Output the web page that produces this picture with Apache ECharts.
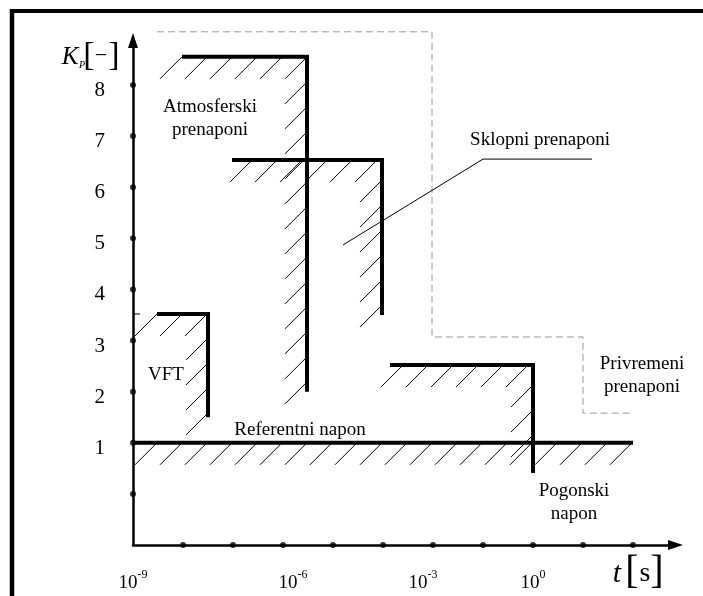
<!DOCTYPE html>
<html><head><meta charset="utf-8">
<script src="https://cdn.jsdelivr.net/npm/echarts@6/dist/echarts.min.js"></script>
<style>html,body{margin:0;padding:0;background:#fff}#c{width:703px;height:596px}</style>
</head><body><div id="c"></div>
<script>
// x: position along the logarithmic time axis, one unit per decade mark (0 = 10^-9 s)
// y: overvoltage factor K_P [-]
const xDots = [1,2,3,4,5,6,7,8,9,10];
const yDots = [0,1,2,3,4,5,6,7,8];
const xTickPositions = [0, 3.2, 5.8, 8];
const xTickExponents = ['-9', '-6', '-3', '0'];

const vftLimit = [[0.48,3.52],[1.5,3.52],[1.5,1.5]];
const lightningLimit = [[0.98,8.55],[3.48,8.55],[3.48,2.0]];
const switchingLimit = [[1.98,6.53],[4.98,6.53],[4.98,3.5]];
const temporaryLimit = [[5.14,2.52],[8,2.52],[8,1.0]];
const operatingDrop = [[8,1.0],[8,0.41]];
const referenceLevel = [[0,1.0],[10,1.0]];
const temporaryEnvelope = [[0.48,9.04],[5.98,9.04],[5.98,3.07],[9,3.07],[9,1.58],[10,1.58]];
const switchingLeader = [[4.2,4.87],[7.0,6.55],[9.18,6.55]];
const vftAxisMark = [[0,3.52],[0.14,3.52]];

const annotationTexts = ['Atmosferski\nprenaponi', 'Sklopni prenaponi', 'VFT', 'Referentni napon', 'Privremeni\nprenaponi', 'Pogonski\nnapon'];
const annotationAt = [[1.54,7.34],[8.14,6.93],[0.66,2.33],[3.34,1.25],[10.18,2.31],[8.82,-0.16]];

const SERIF = "'Liberation Serif', 'Times New Roman', serif";

function pathSeries(name, pts, style, hatchOffset) {
  return {
    type: 'custom', name, clip: false, silent: true,
    data: pts,
    renderItem: function (params, api) {
      if (params.dataIndex !== 0) return null;
      const p = pts.map(d => api.coord(d));
      const children = [{
        type: 'polyline', shape: { points: p },
        style: Object.assign({ fill: null, lineJoin: 'miter', lineCap: 'butt' }, style)
      }];
      if (hatchOffset != null) {
        let dist = 0, next = hatchOffset;
        for (let i = 0; i < p.length - 1; i++) {
          const a = p[i], b = p[i + 1];
          const len = Math.hypot(b[0] - a[0], b[1] - a[1]);
          while (next <= dist + len + 0.5) {
            const t = Math.min(1, (next - dist) / len);
            const x = a[0] + (b[0] - a[0]) * t, y = a[1] + (b[1] - a[1]) * t;
            children.push({ type: 'line', shape: { x1: x, y1: y, x2: x - 22, y2: y + 22 },
              style: { stroke: '#000', lineWidth: 1 } });
            next += 25;
          }
          dist += len;
        }
      }
      return { type: 'group', children };
    }
  };
}

const thick = { stroke: '#000', lineWidth: 4 };

const chart = echarts.init(document.getElementById('c'), null, { renderer: 'canvas' });
chart.setOption({
  animation: false,
  backgroundColor: '#fff',
  textStyle: { fontFamily: SERIF },
  grid: { left: 133, right: 27.5, top: 40.5, bottom: 51 },
  xAxis: {
    type: 'value', min: 0, max: 10.85, interval: 1,
    axisLine: { show: true, onZero: false, lineStyle: { color: '#000', width: 2.5 }, symbol: ['none', 'triangle'], symbolSize: [10, 15] },
    axisTick: { show: false }, splitLine: { show: false },
    axisLabel: {
      customValues: xTickPositions, margin: 24, color: '#000', fontFamily: SERIF,
      formatter: v => { const i = xTickPositions.indexOf(v); return i < 0 ? '' : '{b|10}{s|' + xTickExponents[i] + '}'; },
      rich: {
        b: { fontFamily: SERIF, fontSize: 19, color: '#000', lineHeight: 24, verticalAlign: 'bottom' },
        s: { fontFamily: SERIF, fontSize: 12, color: '#000', lineHeight: 24, verticalAlign: 'top', padding: [0,0,8,0] }
      }
    }
  },
  yAxis: {
    type: 'value', min: -1, max: 8.87, interval: 1,
    axisLine: { show: true, onZero: false, lineStyle: { color: '#000', width: 2.5 }, symbol: ['none', 'triangle'], symbolSize: [10, 15] },
    axisTick: { show: false }, splitLine: { show: false },
    axisLabel: {
      margin: 28, color: '#000',
      formatter: v => (v >= 1 && Number.isInteger(v)) ? '{n|' + v + '}' : '',
      rich: { n: { fontFamily: SERIF, fontSize: 21, color: '#000', padding: [11, 0, 0, 0] } }
    }
  },
  series: [
    pathSeries('Privremeni envelope', temporaryEnvelope, { stroke: '#9a9a9a', lineWidth: 1, lineDash: [7, 4] }, null),
    pathSeries('Referentni napon', referenceLevel, thick, 24),
    pathSeries('VFT', vftLimit, thick, 0),
    pathSeries('Atmosferski', lightningLimit, thick, 0),
    pathSeries('Sklopni', switchingLimit, thick, 20),
    pathSeries('Privremeni', temporaryLimit, thick, 13),
    pathSeries('Pogonski', operatingDrop, thick, null),
    pathSeries('Leader', switchingLeader, { stroke: '#000', lineWidth: 1 }, null),
    pathSeries('VFT mark', vftAxisMark, { stroke: '#000', lineWidth: 1 }, null),
    {
      type: 'scatter', name: 'y marks', clip: false, silent: true, symbol: 'circle', symbolSize: 6,
      itemStyle: { color: '#000' }, data: yDots.map(v => [0, v])
    },
    {
      type: 'scatter', name: 'x marks', clip: false, silent: true, symbol: 'circle', symbolSize: 6,
      itemStyle: { color: '#000' }, data: xDots.map(v => [v, -1])
    },
    {
      type: 'custom', name: 'annotations', clip: false, silent: true,
      data: annotationAt,
      renderItem: function (params, api) {
        const c = api.coord([api.value(0), api.value(1)]);
        return { type: 'text', x: c[0], y: c[1], style: {
          text: annotationTexts[params.dataIndex], align: 'center', verticalAlign: 'middle',
          fontFamily: SERIF, fontSize: 19, lineHeight: 23, fill: '#000' } };
      }
    }
  ],
  graphic: [
    { type: 'line', shape: { x1: 12, y1: 9, x2: 12, y2: 596 }, style: { stroke: '#000', lineWidth: 4.5 } },
    { type: 'line', shape: { x1: 10, y1: 11, x2: 703, y2: 11 }, style: { stroke: '#000', lineWidth: 4 } },
    { type: 'text', x: 70, y: 57, style: { text: 'K', fontFamily: SERIF, fontStyle: 'italic', fontSize: 25, fill: '#000', align: 'center', verticalAlign: 'middle' } },
    { type: 'text', x: 82, y: 65, style: { text: 'P', fontFamily: SERIF, fontStyle: 'italic', fontSize: 10, fill: '#000', align: 'center', verticalAlign: 'middle' } },
    { type: 'text', x: 89, y: 56, style: { text: '[', fontFamily: SERIF, fontSize: 34, fill: '#000', align: 'center', verticalAlign: 'middle' } },
    { type: 'text', x: 101, y: 56, style: { text: '\u2212', fontFamily: SERIF, fontSize: 22, fill: '#000', align: 'center', verticalAlign: 'middle' } },
    { type: 'text', x: 114, y: 56, style: { text: ']', fontFamily: SERIF, fontSize: 34, fill: '#000', align: 'center', verticalAlign: 'middle' } },
    { type: 'text', x: 617, y: 574, style: { text: 't', fontFamily: SERIF, fontStyle: 'italic', fontSize: 30, fill: '#000', align: 'center', verticalAlign: 'middle' } },
    { type: 'text', x: 632, y: 572, style: { text: '[', fontFamily: SERIF, fontSize: 40, fill: '#000', align: 'center', verticalAlign: 'middle' } },
    { type: 'text', x: 645, y: 574, style: { text: 's', fontFamily: SERIF, fontSize: 28, fill: '#000', align: 'center', verticalAlign: 'middle' } },
    { type: 'text', x: 657, y: 572, style: { text: ']', fontFamily: SERIF, fontSize: 40, fill: '#000', align: 'center', verticalAlign: 'middle' } }
  ]
});
</script></body></html>
